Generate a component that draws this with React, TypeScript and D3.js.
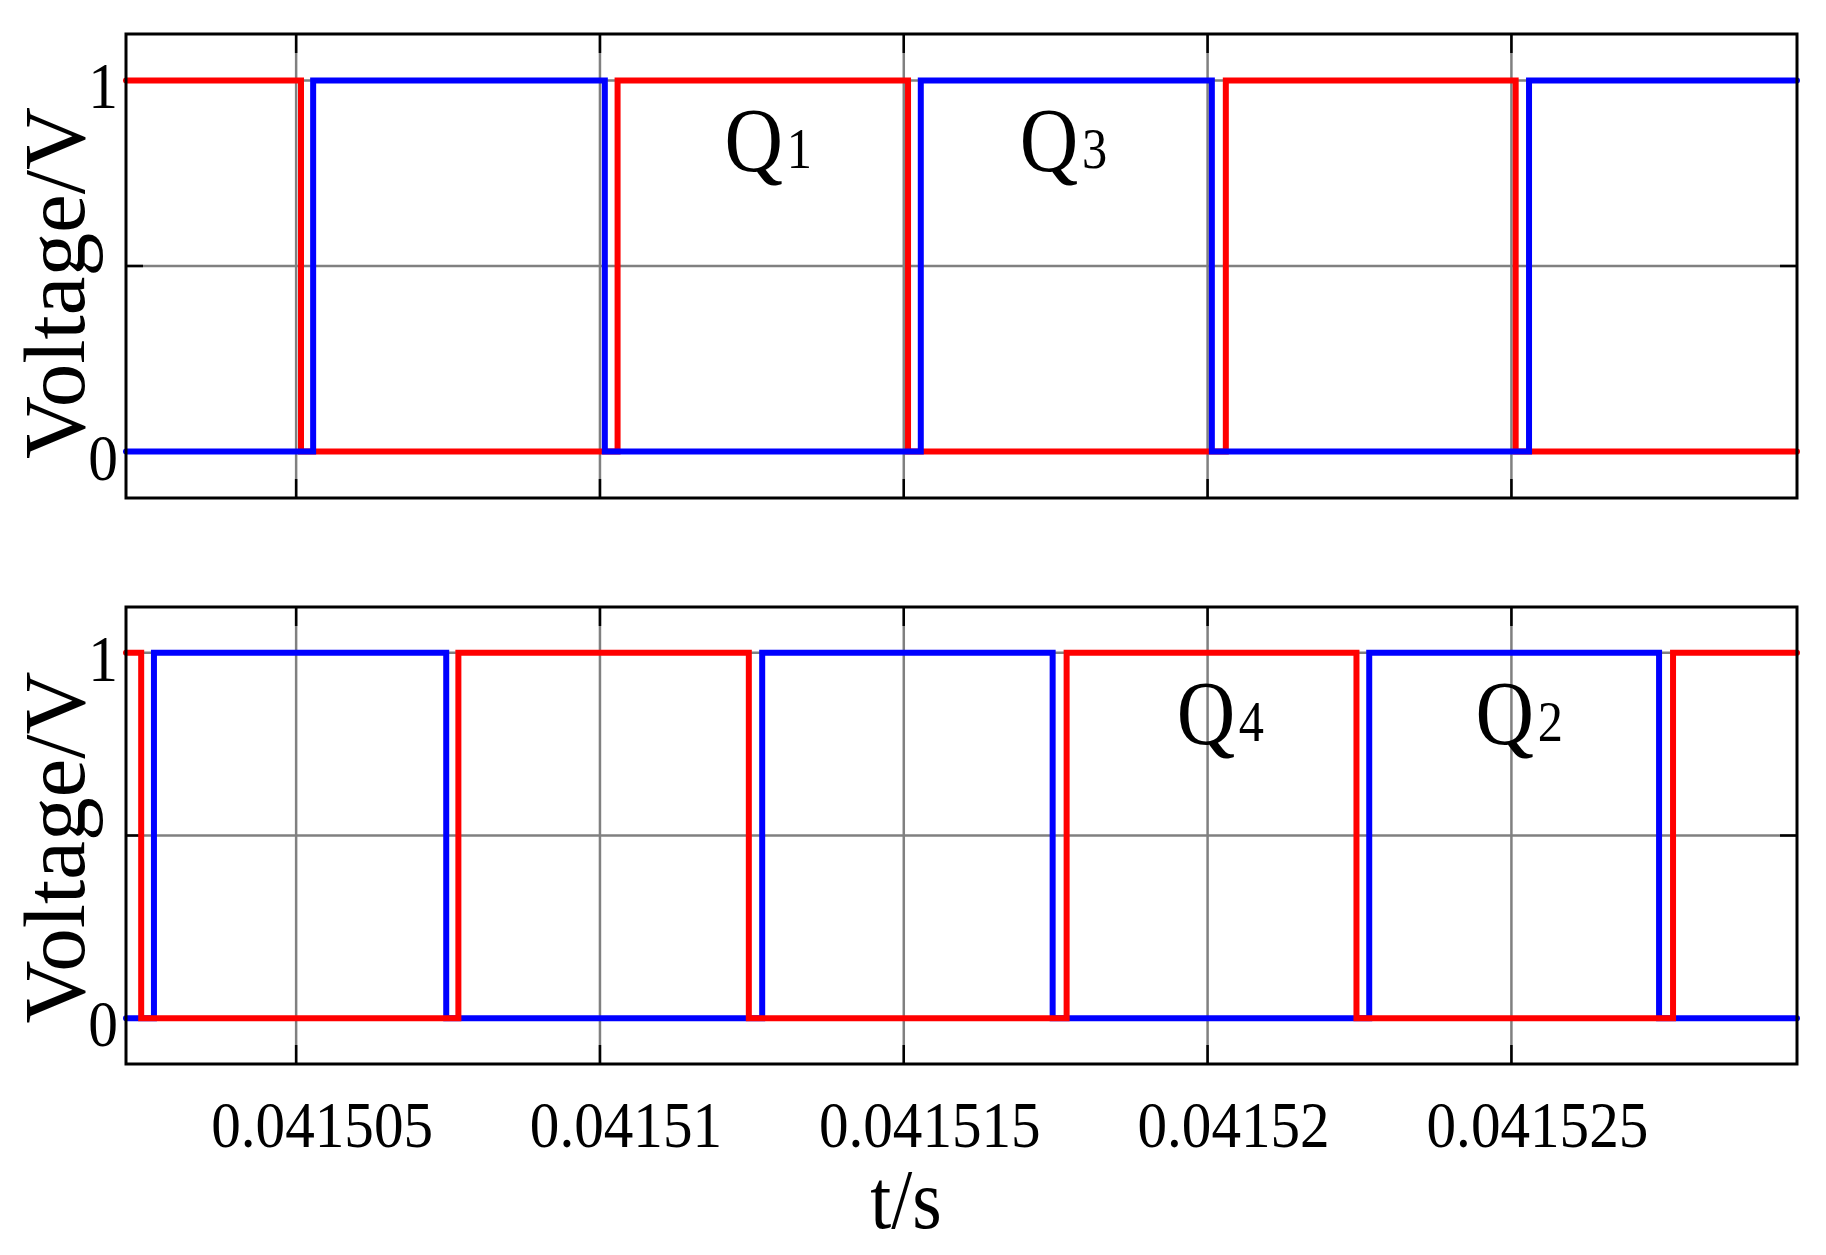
import React, { useEffect, useRef } from "react";
import * as d3 from "d3";

const W = 1826;
const H = 1255;

const timeDomain = [0.0415022, 0.0415297];
const voltDomain = [-0.125, 1.125];

const xTicks = [0.041505, 0.04151, 0.041515, 0.04152, 0.041525];
const xTickLabels = ["0.041505", "0.04151", "0.041515", "0.04152", "0.041525"];
const yTicks = [0, 0.5, 1];
const yTickLabels = ["0", "", "1"];

// gate signals: starting level + switching instants (s), each edge toggles the level
const q1Start = 1;
const q1Edges = [0.04150508, 0.04151029, 0.04151507, 0.0415203, 0.04152507];
const q3Start = 0;
const q3Edges = [0.04150528, 0.04151008, 0.04151528, 0.04152007, 0.04152529];
const q4Start = 1;
const q4Edges = [0.04150245, 0.04150767, 0.04151245, 0.04151768, 0.04152245, 0.04152766];
const q2Start = 0;
const q2Edges = [0.04150266, 0.04150747, 0.04151267, 0.04151745, 0.04152266, 0.04152743];

// labels inside the plots: [name, subscript, time, level]
const topNotes: [string, string, number, number][] = [
    ["Q", "1", 0.0415121, 0.757],
    ["Q", "3", 0.04151696, 0.757],
];
const bottomNotes: [string, string, number, number][] = [
    ["Q", "4", 0.04151954, 0.75],
    ["Q", "2", 0.04152446, 0.75],
];

const FONT = "'Liberation Serif', 'Times New Roman', serif";

const toSteps = (start: number, edges: number[]) => {
    const pts: [number, number][] = [[timeDomain[0], start]];
    let level = start;
    edges.forEach(t => {
        level = 1 - level;
        pts.push([t, level]);
    });
    pts.push([timeDomain[1], level]);
    return pts;
};

const App = () => {
    const ref = useRef<SVGSVGElement>(null);

    useEffect(() => {
        const svg = d3.select(ref.current);
        svg.selectAll("*").remove();

        const left = 126;
        const right = 1797;
        const x = d3.scaleLinear().domain(timeDomain).range([left, right]);

        const panels = [
            {
                top: 34, bottom: 498,
                // blue drawn over red in the upper plot
                series: [
                    { pts: toSteps(q1Start, q1Edges), color: "#ff0000" },
                    { pts: toSteps(q3Start, q3Edges), color: "#0000ff" },
                ],
                notes: topNotes,
                titleShift: 17,
            },
            {
                top: 607, bottom: 1064,
                series: [
                    { pts: toSteps(q2Start, q2Edges), color: "#0000ff" },
                    { pts: toSteps(q4Start, q4Edges), color: "#ff0000" },
                ],
                notes: bottomNotes,
                titleShift: 12,
            },
        ];

        panels.forEach(p => {
            const y = d3.scaleLinear().domain(voltDomain).range([p.bottom, p.top]);
            const g = svg.append("g");

            // grid
            g.selectAll(".vgrid").data(xTicks).enter().append("line")
                .attr("x1", d => x(d)).attr("x2", d => x(d))
                .attr("y1", p.top).attr("y2", p.bottom)
                .attr("stroke", "#808080").attr("stroke-width", 2.5);
            g.selectAll(".hgrid").data(yTicks).enter().append("line")
                .attr("x1", left).attr("x2", right)
                .attr("y1", d => y(d)).attr("y2", d => y(d))
                .attr("stroke", "#808080").attr("stroke-width", 2.5);

            // ticks, pointing inward on all four sides
            xTicks.forEach(t => {
                g.append("line").attr("x1", x(t)).attr("x2", x(t))
                    .attr("y1", p.top).attr("y2", p.top + 19)
                    .attr("stroke", "#000").attr("stroke-width", 2.5);
                g.append("line").attr("x1", x(t)).attr("x2", x(t))
                    .attr("y1", p.bottom).attr("y2", p.bottom - 19)
                    .attr("stroke", "#000").attr("stroke-width", 2.5);
            });
            yTicks.forEach(v => {
                g.append("line").attr("x1", left).attr("x2", left + 17)
                    .attr("y1", y(v)).attr("y2", y(v))
                    .attr("stroke", "#000").attr("stroke-width", 2.5);
                g.append("line").attr("x1", right).attr("x2", right - 17)
                    .attr("y1", y(v)).attr("y2", y(v))
                    .attr("stroke", "#000").attr("stroke-width", 2.5);
            });

            // signals
            const line = d3.line<[number, number]>()
                .x(d => x(d[0]))
                .y(d => y(d[1]))
                .curve(d3.curveStepAfter);
            p.series.forEach(s => {
                g.append("path")
                    .attr("d", line(s.pts))
                    .attr("fill", "none")
                    .attr("stroke", s.color)
                    .attr("stroke-width", 6)
                    .attr("stroke-linecap", "round")
                    .attr("stroke-linejoin", "miter");
            });

            // frame
            g.append("rect")
                .attr("x", left).attr("y", p.top)
                .attr("width", right - left).attr("height", p.bottom - p.top)
                .attr("fill", "none").attr("stroke", "#000").attr("stroke-width", 3);

            // y tick labels
            yTicks.forEach((v, i) => {
                if (!yTickLabels[i]) return;
                g.append("text")
                    .attr("transform", `translate(118,${y(v) + 28}) scale(0.9,1)`)
                    .attr("text-anchor", "end")
                    .attr("font-family", FONT)
                    .attr("font-size", 66)
                    .text(yTickLabels[i]);
            });

            // y axis title
            g.append("text")
                .attr("transform", `translate(84,${(p.top + p.bottom) / 2 + p.titleShift}) rotate(-90)`)
                .attr("text-anchor", "middle")
                .attr("font-family", FONT)
                .attr("font-size", 86)
                .attr("textLength", 352)
                .attr("lengthAdjust", "spacingAndGlyphs")
                .text("Voltage/V");

            // Q labels
            p.notes.forEach(([name, sub, t, v]) => {
                const txt = g.append("text")
                    .attr("transform", `translate(${x(t) - 3},${y(v)}) scale(0.9,1)`)
                    .attr("font-family", FONT)
                    .attr("font-size", 90);
                txt.append("tspan").text(name);
                txt.append("tspan").attr("font-size", 56).attr("dx", 4).attr("dy", -3).text(sub);
            });
        });

        // x tick labels under the lower plot
        xTicks.forEach((t, i) => {
            svg.append("text")
                .attr("transform", `translate(${x(t) + 26},1147) scale(0.91,1)`)
                .attr("text-anchor", "middle")
                .attr("font-family", FONT)
                .attr("font-size", 65)
                .text(xTickLabels[i]);
        });

        svg.append("text")
            .attr("transform", "translate(906,1228) scale(0.9,1)")
            .attr("text-anchor", "middle")
            .attr("font-family", FONT)
            .attr("font-size", 84)
            .text("t/s");
    }, []);

    return (
        <svg
            ref={ref}
            width={W}
            height={H}
            style={{ position: "absolute", left: 0, top: 0, background: "#fff" }}
        />
    );
};

export default App;
